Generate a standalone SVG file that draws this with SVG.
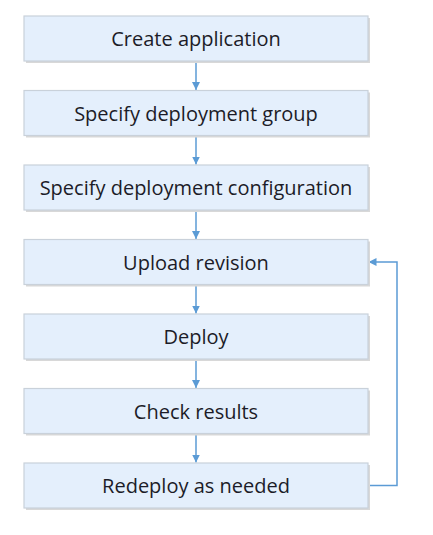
<svg xmlns="http://www.w3.org/2000/svg" width="433" height="535" viewBox="0 0 433 535">
<defs>
<style>
.box{fill:#e4effc;stroke:#c9d1da;stroke-width:1.2}
.sh{fill:#d8d8d8}
.t{font-family:"Open Sans","Noto Sans",sans-serif;font-size:20px;fill:#1c1c28;text-anchor:middle;dominant-baseline:central}
.c{fill:none;stroke:#5b9bd5;stroke-width:1.5}
</style>
<marker id="ah" viewBox="0 0 10 10" refX="10" refY="5" markerWidth="8" markerHeight="8" markerUnits="userSpaceOnUse" orient="auto">
<path d="M0,0 L10,5 L0,10 z" fill="#5b9bd5"/>
</marker>
</defs>
<rect width="433" height="535" fill="#ffffff"/>
<g id="connectors">
<line class="c" x1="196" y1="61" x2="196" y2="90" marker-end="url(#ah)"/>
<line class="c" x1="196" y1="135.5" x2="196" y2="164.5" marker-end="url(#ah)"/>
<line class="c" x1="196" y1="210" x2="196" y2="239" marker-end="url(#ah)"/>
<line class="c" x1="196" y1="284.5" x2="196" y2="313.5" marker-end="url(#ah)"/>
<line class="c" x1="196" y1="359" x2="196" y2="388" marker-end="url(#ah)"/>
<line class="c" x1="196" y1="433.5" x2="196" y2="462.5" marker-end="url(#ah)"/>
<polyline class="c" points="368,485.5 397,485.5 397,262 368.5,262" marker-end="url(#ah)"/>
</g>
<g id="n1"><rect class="sh" x="26" y="18" width="344" height="45"/><rect class="box" x="24" y="16" width="344" height="45"/><text class="t" x="196" y="38.5">Create application</text></g>
<g id="n2"><rect class="sh" x="26" y="92.5" width="344" height="45"/><rect class="box" x="24" y="90.5" width="344" height="45"/><text class="t" x="196" y="113">Specify deployment group</text></g>
<g id="n3"><rect class="sh" x="26" y="167" width="344" height="45"/><rect class="box" x="24" y="165" width="344" height="45"/><text class="t" x="196" y="187.5">Specify deployment configuration</text></g>
<g id="n4"><rect class="sh" x="26" y="241.5" width="344" height="45"/><rect class="box" x="24" y="239.5" width="344" height="45"/><text class="t" x="196" y="262">Upload revision</text></g>
<g id="n5"><rect class="sh" x="26" y="316" width="344" height="45"/><rect class="box" x="24" y="314" width="344" height="45"/><text class="t" x="196" y="336.5">Deploy</text></g>
<g id="n6"><rect class="sh" x="26" y="390.5" width="344" height="45"/><rect class="box" x="24" y="388.5" width="344" height="45"/><text class="t" x="196" y="411">Check results</text></g>
<g id="n7"><rect class="sh" x="26" y="465" width="344" height="45"/><rect class="box" x="24" y="463" width="344" height="45"/><text class="t" x="196" y="485.5">Redeploy as needed</text></g>
</svg>
